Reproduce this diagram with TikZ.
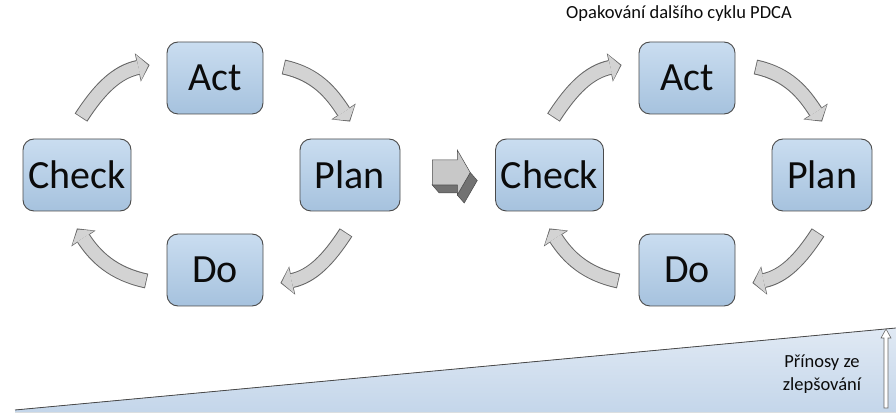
\documentclass[tikz,border=0pt]{standalone}
\usepackage{fontspec}
\setmainfont{Carlito}
\usetikzlibrary{arrows.meta,positioning,calc}
\definecolor{ink}{HTML}{0B0B0B}
\definecolor{edge}{HTML}{4A4A4A}
\definecolor{boxtop}{HTML}{CADDF0}
\definecolor{boxbot}{HTML}{A6C2DE}
\definecolor{arrfill}{HTML}{D3D3D3}
\definecolor{arredge}{HTML}{666666}
\definecolor{face}{HTML}{C8C8C8}
\definecolor{side}{HTML}{727272}
\definecolor{gaintop}{HTML}{E0E9F4}
\definecolor{gainbot}{HTML}{C4D6EA}

\begin{document}
\begin{tikzpicture}[x=1pt, y=1pt,
  box/.style={draw=edge, line width=0.9pt, rounded corners=11pt, top color=boxtop, bottom color=boxbot,
    minimum height=72pt, minimum width=#1, inner sep=0pt, text=ink, font=\fontsize{40}{44}\selectfont},
  box/.default=96pt,
  turn/.style={draw=arrfill, line width=13pt, shorten <=0.8pt, shorten >=1.3pt,
    -{Triangle[width=26pt, length=10pt, line width=0pt]},
    preaction={draw=arredge, line width=15pt, shorten <=0pt, shorten >=0pt,
      -{Triangle[width=29pt, length=12pt, line width=0pt]}}},
  lbl/.style={text=ink, font=\fontsize{18.5}{23}\selectfont, align=center}]
\useasboundingbox (0,0) rectangle (896,412);

% rising benefit wedge
\fill[top color=gaintop, bottom color=gainbot] (15,2) -- (896,84) -- (896,0) -- (15,0) -- cycle;
\draw[edge, line width=0.8pt] (15,2) -- (896,84);
\draw[arredge, fill=white, line width=0.6pt] (884,4) -- (884,74) -- (881,74) -- (886,83) -- (891,74) -- (888,74) -- (888,4) -- cycle;
\node[lbl] (gain) at (822,38) {Přínosy ze\\zlepšování};

% first cycle
\node[box=108pt] (chk) at (77,237) {Check};
\node[box] (act) at (215,334) {Act};
\node[box=100pt] (pln) at (350,237) {Plan};
\node[box] (do) at (215,142) {Do};
\draw[turn] ([shift={(4,21)}]chk.north) to[out=57,in=192] ([shift={(-17,13)}]act.west);
\draw[turn] ([shift={(20,11)}]act.east) to[out=-12,in=123] ([shift={(0,17)}]pln.north);
\draw[turn] ([shift={(-4,-21)}]pln.south) to[out=237,in=12] ([shift={(17,-13)}]do.east);
\draw[turn] ([shift={(-20,-11)}]do.west) to[out=168,in=303] ([shift={(0,-17)}]chk.south);

% second cycle
\node[box=108pt] (chk2) at (549.5,237) {Check};
\node[box] (act2) at (687,334) {Act};
\node[box=100pt] (pln2) at (822,237) {Plan};
\node[box] (do2) at (687,142) {Do};
\draw[turn] ([shift={(4,21)}]chk2.north) to[out=57,in=192] ([shift={(-17,13)}]act2.west);
\draw[turn] ([shift={(20,11)}]act2.east) to[out=-12,in=123] ([shift={(0,17)}]pln2.north);
\draw[turn] ([shift={(-4,-21)}]pln2.south) to[out=237,in=12] ([shift={(17,-13)}]do2.east);
\draw[turn] ([shift={(-20,-11)}]do2.west) to[out=168,in=303] ([shift={(0,-17)}]chk2.south);
\node[lbl] (title) at (679,398) {Opakování dalšího cyklu PDCA};

% 3d arrow between the cycles
\coordinate (mid) at ($(pln.east)!0.5!(chk2.west)$);
\begin{scope}[shift={(mid)}, draw=edge, line width=0.5pt]
\filldraw[fill=side] (-15.5,-10) -- (-8.5,-18) -- (16.5,-18) -- (9.5,-10) -- cycle;
\filldraw[fill=side] (22.5,2.5) -- (29.5,-5.5) -- (16.5,-28) -- (9.5,-20) -- cycle;
\filldraw[fill=face] (-15.5,15) -- (9.5,15) -- (9.5,25) -- (22.5,2.5) -- (9.5,-20) -- (9.5,-10) -- (-15.5,-10) -- cycle;
\end{scope}
\end{tikzpicture}
\end{document}
